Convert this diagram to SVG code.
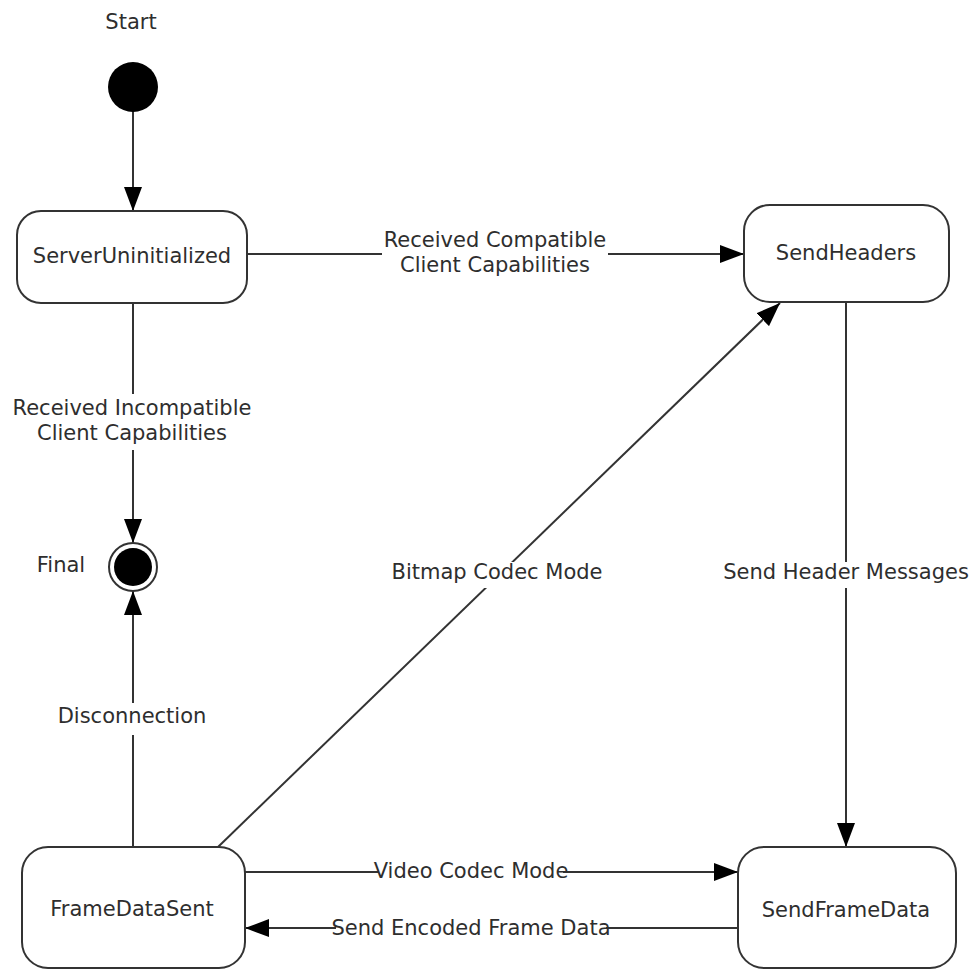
<svg xmlns="http://www.w3.org/2000/svg" width="971" height="973" viewBox="0 0 971 973">
<defs>
<style>
text{font-family:"DejaVu Sans",Verdana,sans-serif;font-size:21px;fill:#2e2e2e;text-anchor:middle}
.node{fill:#fff;stroke:#333;stroke-width:2}
.edge{fill:none;stroke:#333;stroke-width:2}
.bg{fill:#fff;stroke:none}
</style>
<marker id="arr" viewBox="0 0 24 18" refX="24" refY="9" markerWidth="24" markerHeight="18" markerUnits="userSpaceOnUse" orient="auto">
<path d="M0,0 L24,9 L0,18 Z" fill="#000"/>
</marker>
</defs>
<g id="connectors">
<line class="edge" x1="133" y1="111" x2="133" y2="211" marker-end="url(#arr)"/>
<line class="edge" x1="247" y1="254" x2="744" y2="254" marker-end="url(#arr)"/>
<line class="edge" x1="133" y1="303" x2="133" y2="543" marker-end="url(#arr)"/>
<line class="edge" x1="133" y1="847" x2="133" y2="591" marker-end="url(#arr)"/>
<line class="edge" x1="218" y1="847" x2="780" y2="303" marker-end="url(#arr)"/>
<line class="edge" x1="846" y1="302" x2="846" y2="847" marker-end="url(#arr)"/>
<line class="edge" x1="245" y1="872" x2="738" y2="872" marker-end="url(#arr)"/>
<line class="edge" x1="738" y1="928" x2="245" y2="928" marker-end="url(#arr)"/>
<rect class="bg" x="382" y="228" width="226" height="48"/>
<text x="495" y="247">Received Compatible</text>
<text x="495" y="272">Client Capabilities</text>
<rect class="bg" x="8" y="394" width="248" height="56"/>
<text x="132" y="415">Received Incompatible</text>
<text x="132" y="440">Client Capabilities</text>
<rect class="bg" x="56" y="703" width="152" height="32"/>
<text x="132" y="723">Disconnection</text>
<rect class="bg" x="390" y="562" width="214" height="26"/>
<text x="497" y="579">Bitmap Codec Mode</text>
<rect class="bg" x="722" y="562" width="248" height="26"/>
<text x="846" y="579">Send Header Messages</text>
<rect class="bg" x="379" y="860" width="184" height="24"/>
<text x="471" y="878">Video Codec Mode</text>
<rect class="bg" x="336" y="916" width="270" height="24"/>
<text x="471" y="935">Send Encoded Frame Data</text>
</g>
<g id="start">
<text x="131" y="29">Start</text>
<circle cx="133" cy="87" r="25" fill="#000"/>
</g>
<g id="final">
<text x="61" y="572">Final</text>
<circle cx="133" cy="567" r="24" fill="#fff" stroke="#333" stroke-width="2"/>
<circle cx="133" cy="567" r="19" fill="#000"/>
</g>
<g id="ServerUninitialized">
<rect class="node" x="17" y="211" width="230" height="92" rx="24"/>
<text x="132" y="263">ServerUninitialized</text>
</g>
<g id="SendHeaders">
<rect class="node" x="744" y="205" width="205" height="97" rx="26"/>
<text x="846" y="260">SendHeaders</text>
</g>
<g id="FrameDataSent">
<rect class="node" x="22" y="847" width="223" height="121" rx="26"/>
<text x="132" y="916">FrameDataSent</text>
</g>
<g id="SendFrameData">
<rect class="node" x="738" y="847" width="218" height="121" rx="26"/>
<text x="846" y="917">SendFrameData</text>
</g>
</svg>
